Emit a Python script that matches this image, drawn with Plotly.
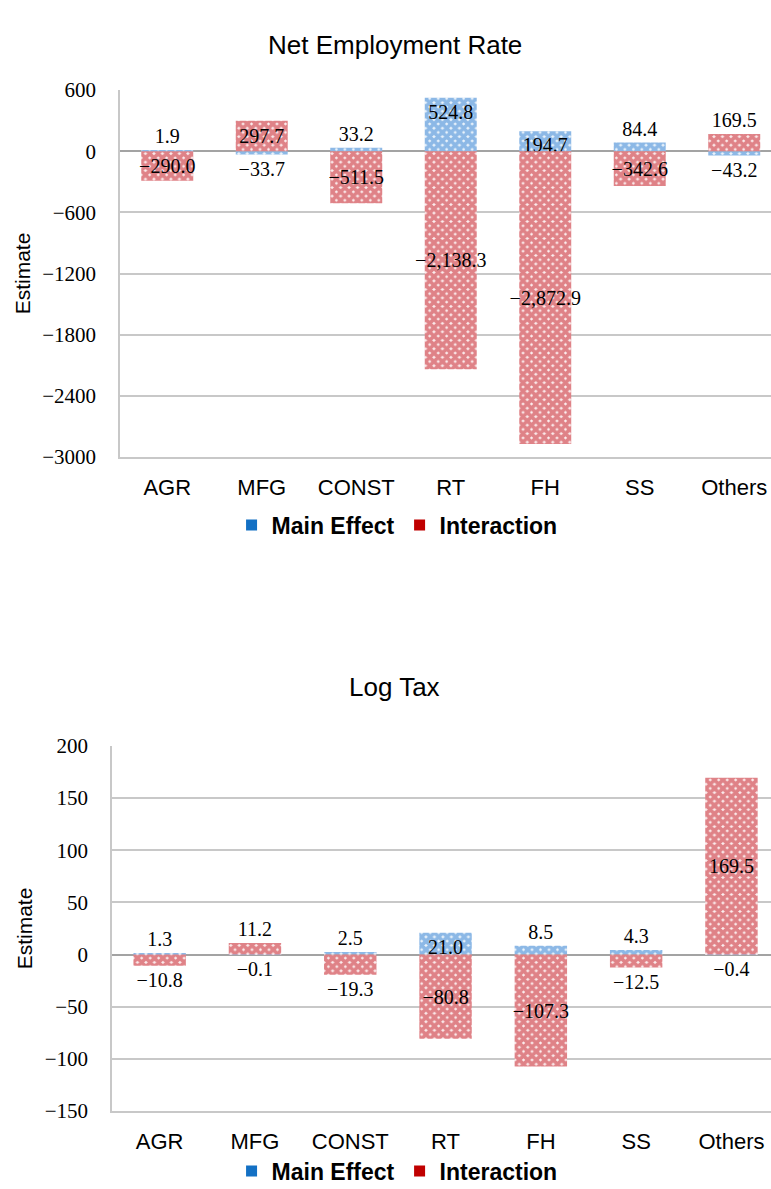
import plotly.graph_objects as go

# ---------------- data ----------------
categories = ["AGR", "MFG", "CONST", "RT", "FH", "SS", "Others"]

ner_main = [1.9, -33.7, 33.2, 524.8, 194.7, 84.4, -43.2]
ner_inter = [-290.0, 297.7, -511.5, -2138.3, -2872.9, -342.6, 169.5]

tax_main = [1.3, -0.1, 2.5, 21.0, 8.5, 4.3, -0.4]
tax_inter = [-10.8, 11.2, -19.3, -80.8, -107.3, -12.5, 169.5]

ner_ticks = [600, 0, -600, -1200, -1800, -2400, -3000]
tax_ticks = [200, 150, 100, 50, 0, -50, -100, -150]

series_names = ["Main Effect", "Interaction"]
titles = ["Net Employment Rate", "Log Tax"]

# ---------------- styles ----------------
ner_main_pos = ["outside", "outside", "outside", "inside", "inside", "outside", "outside"]
ner_inter_pos = ["inside", "inside", "inside", "inside", "inside", "inside", "outside"]
tax_main_pos = ["outside", "outside", "outside", "inside", "outside", "outside", "outside"]
tax_inter_pos = ["outside", "outside", "outside", "inside", "inside", "outside", "inside"]

BLUE_PAT = "#2A7BCF"
RED_PAT = "#C41520"
BLUE_LEG = "#1370C4"
RED_LEG = "#C00000"
GRID = "#C8C8C8"
ZERO = "#A3A3A3"
SERIF = "Liberation Serif"
SANS = "Liberation Sans"
W, H = 771, 1189


def fmt(v):
    return f"{v:,.1f}".replace("-", "\u2212")


def bar(vals, pos, color, anchor, xa, ya, name):
    tf = dict(family=SERIF, size=20, color="black")
    return go.Bar(
        x=categories, y=vals, name=name, showlegend=False,
        xaxis=xa, yaxis=ya, width=0.55,
        marker=dict(color="white", line=dict(width=0),
                    pattern=dict(shape="x", fgcolor=color, bgcolor="#FBEFEF" if color == RED_PAT else "#EEF5FC",
                                 size=6, solidity=0.85)),
        text=[fmt(v) for v in vals], textposition=pos, textangle=0,
        insidetextanchor=anchor, constraintext="none", cliponaxis=False,
        textfont=tf, insidetextfont=tf, outsidetextfont=tf,
        hoverinfo="x+y",
    )


fig = go.Figure()
fig.add_trace(bar(ner_main, ner_main_pos, BLUE_PAT, "end", "x", "y", series_names[0]))
fig.add_trace(bar(ner_inter, ner_inter_pos, RED_PAT, "middle", "x", "y", series_names[1]))
fig.add_trace(bar(tax_main, tax_main_pos, BLUE_PAT, "end", "x2", "y2", series_names[0]))
fig.add_trace(bar(tax_inter, tax_inter_pos, RED_PAT, "middle", "x2", "y2", series_names[1]))

# legend proxies (solid squares)
for lg, xa, ya in [("legend", "x", "y"), ("legend2", "x2", "y2")]:
    for nm, col in zip(series_names, [BLUE_LEG, RED_LEG]):
        fig.add_trace(go.Scatter(x=[None], y=[None], mode="markers", name=nm,
                                 marker=dict(symbol="square", size=11, color=col),
                                 legend=lg, xaxis=xa, yaxis=ya, showlegend=True))


def px_y(y):
    return 1 - y / H


xcommon = dict(type="category", showgrid=False, showline=True, linecolor=GRID,
               linewidth=1.5, ticks="", tickfont=dict(family=SANS, size=22, color="black"),
               ticklabelstandoff=10, fixedrange=True, automargin=False)
ycommon = dict(showgrid=True, gridcolor=GRID, gridwidth=1.5, zeroline=True,
               zerolinecolor=ZERO, zerolinewidth=1.5, showline=True, linecolor=GRID,
               linewidth=1.5, ticks="", tickfont=dict(family=SERIF, size=21, color="black"),
               ticklabelstandoff=18, fixedrange=True, automargin=False,
               title=dict(text="Estimate", font=dict(family=SANS, size=21, color="black"),
                          standoff=6))

legfont = dict(family=SANS, size=23, color="black", weight="bold")

fig.update_layout(
    width=W, height=H, margin=dict(l=0, r=0, t=0, b=0, autoexpand=False),
    paper_bgcolor="white", plot_bgcolor="white", barmode="overlay",
    xaxis=dict(domain=[120 / W, 1], anchor="y", range=[-0.5, 6.389], **xcommon),
    yaxis=dict(domain=[px_y(457), px_y(90)], anchor="x", range=[-3000, 600],
               tickvals=ner_ticks, **ycommon),
    xaxis2=dict(domain=[112 / W, 1], anchor="y2", range=[-0.5, 6.415], **xcommon),
    yaxis2=dict(domain=[px_y(1111), px_y(746)], anchor="x2", range=[-150, 200],
                tickvals=tax_ticks, **ycommon),
    legend=dict(orientation="h", x=0.515, y=px_y(525), xanchor="center", yanchor="middle",
                font=legfont, itemwidth=30, tracegroupgap=0, bgcolor="rgba(0,0,0,0)"),
    legend2=dict(orientation="h", x=0.515, y=px_y(1171), xanchor="center", yanchor="middle",
                 font=legfont, itemwidth=30, tracegroupgap=0, bgcolor="rgba(0,0,0,0)"),
    annotations=[
        dict(text=titles[0], x=395 / W, y=px_y(45), xref="paper", yref="paper",
             showarrow=False, xanchor="center", yanchor="middle",
             font=dict(family=SANS, size=26, color="black")),
        dict(text=titles[1], x=395 / W, y=px_y(687), xref="paper", yref="paper",
             showarrow=False, xanchor="center", yanchor="middle",
             font=dict(family=SANS, size=26, color="black")),
    ],
)

fig.write_html("out.html", config={"displayModeBar": False},
               post_script="document.body.style.margin='0px';document.body.style.padding='0px';")
